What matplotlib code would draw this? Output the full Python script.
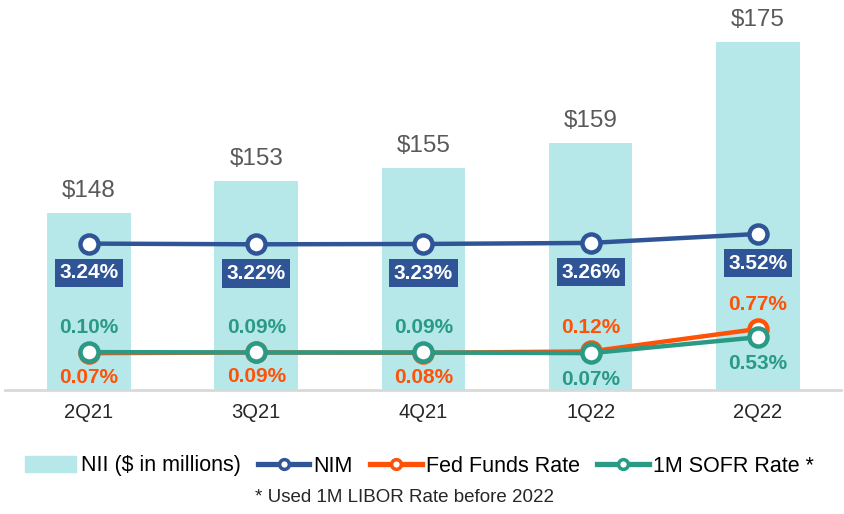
import numpy as np
import matplotlib
matplotlib.use("Agg")
import matplotlib.pyplot as plt
from matplotlib.patches import Patch
from matplotlib.lines import Line2D

plt.rcParams['font.family'] = ['Liberation Sans', 'DejaVu Sans']

# --- datos ---
trimestres = ['2Q21', '3Q21', '4Q21', '1Q22', '2Q22']
nii = [148, 153, 155, 159, 175]
nim = [3.24, 3.22, 3.23, 3.26, 3.52]
fed_funds = [0.07, 0.09, 0.08, 0.12, 0.77]
sofr = [0.10, 0.09, 0.09, 0.07, 0.53]

# posicion de etiquetas: +1 arriba, -1 abajo
pos_fed = [-1, -1, -1, 1, 1]
pos_sofr = [1, 1, 1, -1, -1]

C_BAR = '#B6E8E9'
C_NIM = '#2F5597'
C_FED = '#FF5208'
C_SOFR = '#2A9A85'

fig = plt.figure(figsize=(8.44, 5.14), dpi=100)
ax = fig.add_axes([0.0064, 0.241, 0.9906, 0.7395])
x = np.arange(len(trimestres))

ax.bar(x, nii, width=0.5, color=C_BAR, zorder=1)
ax.set_ylim(120, 180)
ax.set_xlim(-0.5, 4.5)
for xi, v in zip(x, nii):
    ax.annotate(f'${v}', (xi, v), xytext=(0, 8), textcoords='offset points',
                ha='center', va='bottom', fontsize=17.5, color='#595959')

for s in ['top', 'right', 'left']:
    ax.spines[s].set_visible(False)
ax.spines['bottom'].set_color('#D9D9D9')
ax.spines['bottom'].set_linewidth(2)
ax.set_yticks([])
ax.set_xticks(x)
ax.set_xticklabels(trimestres, fontsize=14.5, color='#262626')
ax.tick_params(axis='x', length=0, pad=9)

ax2 = ax.twinx()
ax2.set_ylim(-1, 10)
ax2.axis('off')

estilo = dict(marker='o', markersize=13, markerfacecolor='white', markeredgewidth=3.2,
              linewidth=3.2, solid_capstyle='round')
ax2.plot(x, nim, color=C_NIM, zorder=3, **estilo)
ax2.plot(x, fed_funds, color=C_FED, zorder=3, **estilo)
ax2.plot(x, sofr, color=C_SOFR, zorder=4, **estilo)

for xi, v in zip(x, nim):
    ax2.annotate(f'{v:.2f}%', (xi, v), xytext=(0, -21), textcoords='offset points',
                 ha='center', va='center', fontsize=15, fontweight='bold', color='white',
                 bbox=dict(boxstyle='square,pad=0.22', fc=C_NIM, ec='none'))

for xi, v, p in zip(x, fed_funds, pos_fed):
    ax2.annotate(f'{v:.2f}%', (xi, v), xytext=(0, 17.5 * p), textcoords='offset points',
                 ha='center', va='center', fontsize=15, fontweight='bold', color=C_FED)

for xi, v, p in zip(x, sofr, pos_sofr):
    off = 18 if p > 0 else 19
    ax2.annotate(f'{v:.2f}%', (xi, v), xytext=(0, off * p), textcoords='offset points',
                 ha='center', va='center', fontsize=15, fontweight='bold', color=C_SOFR)

handles = [
    Patch(color=C_BAR, label='NII ($ in millions)'),
    Line2D([], [], color=C_NIM, label='NIM', marker='o', markersize=7,
           markerfacecolor='white', markeredgewidth=2.5, linewidth=3.8),
    Line2D([], [], color=C_FED, label='Fed Funds Rate', marker='o', markersize=7,
           markerfacecolor='white', markeredgewidth=2.5, linewidth=3.8),
    Line2D([], [], color=C_SOFR, label='1M SOFR Rate *', marker='o', markersize=7,
           markerfacecolor='white', markeredgewidth=2.5, linewidth=3.8),
]
fig.legend(handles=handles, loc='center', bbox_to_anchor=(0.497, 1 - 466 / 514), ncol=4,
           frameon=False, fontsize=15.5, handlelength=2.4, handletextpad=0.2,
           columnspacing=0.8)

fig.text(0.479, 1 - 497 / 514, '* Used 1M LIBOR Rate before 2022', ha='center',
         va='center', fontsize=13.5, color='#262626')

fig.savefig('out.png', dpi=100)
